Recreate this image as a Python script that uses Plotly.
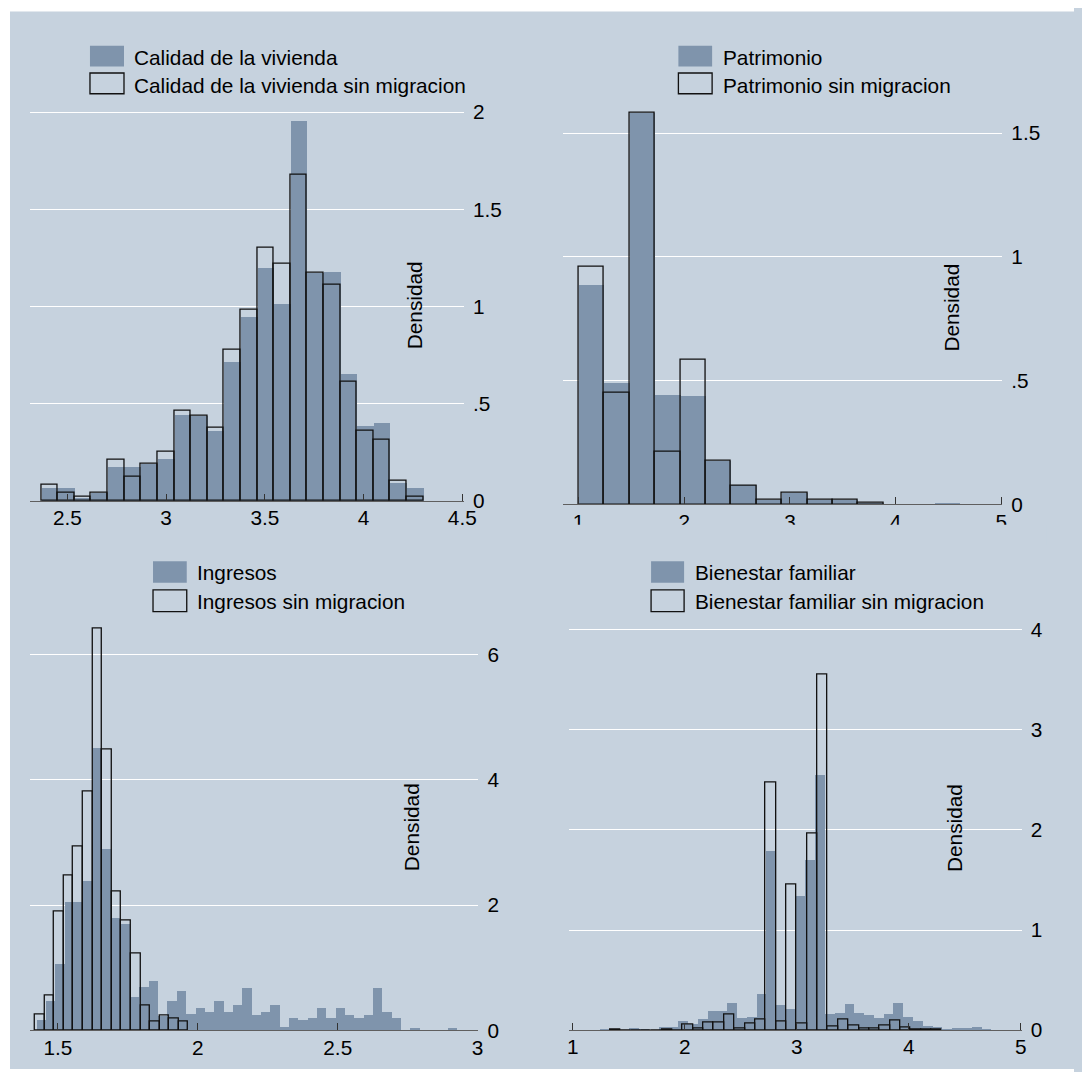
import plotly.graph_objects as go

# ---------------- data (densities) ----------------
calidad_start = 2.368
calidad_width = 0.0841
calidad_mig = [0.069, 0.069, 0.017, 0.043, 0.175, 0.175, 0.192, 0.218, 0.445, 0.440,
               0.364, 0.716, 0.948, 1.200, 1.012, 1.954, 1.175, 1.177, 0.656, 0.385,
               0.404, 0.093, 0.069]
calidad_sin = [0.084, 0.043, 0.024, 0.043, 0.213, 0.127, 0.192, 0.256, 0.462, 0.440,
               0.378, 0.780, 0.986, 1.300, 1.218, 1.679, 1.175, 1.112, 0.612, 0.359,
               0.316, 0.107, 0.024]

patrimonio_start = 1.0
patrimonio_width = 0.2405
patrimonio_mig = [0.887, 0.491, 1.581, 0.444, 0.437, 0.175, 0.080, 0.019, 0.047, 0.019,
                  0.019, 0.003, 0.0, 0.0, 0.008]
patrimonio_sin = [0.961, 0.452, 1.581, 0.213, 0.584, 0.175, 0.077, 0.019, 0.047, 0.019,
                  0.019, 0.005]

ingresos_mig_start = 1.4236
ingresos_mig_width = 0.0334
ingresos_mig = [0.171, 0.476, 1.070, 2.064, 2.064, 2.390, 4.520, 2.910, 1.810, 1.706,
                0.534, 0.695, 0.800, 0.240, 0.480, 0.630, 0.267, 0.363, 0.310, 0.470,
                0.310, 0.417, 0.684, 0.257, 0.310, 0.417, 0.064, 0.203, 0.171, 0.203,
                0.363, 0.203, 0.363, 0.257, 0.203, 0.257, 0.684, 0.310, 0.203, 0.0,
                0.053, 0.0, 0.0, 0.0, 0.053]
ingresos_sin_start = 1.4175
ingresos_sin_width = 0.0343
ingresos_sin = [0.251, 0.561, 1.904, 2.470, 2.940, 3.820, 6.410, 4.490, 2.214, 1.759,
                1.230, 0.396, 0.144, 0.246, 0.193, 0.144]

bienestar_mig_start = 1.247
bienestar_mig_width = 0.0873
bienestar_mig = [0.010, 0.005, 0.0, 0.023, 0.010, 0.0, 0.033, 0.033, 0.093, 0.067,
                 0.117, 0.200, 0.200, 0.277, 0.123, 0.137, 0.367, 1.790, 0.260, 0.217,
                 1.340, 1.700, 2.550, 0.167, 0.173, 0.267, 0.177, 0.160, 0.123, 0.167,
                 0.277, 0.140, 0.093, 0.043, 0.033, 0.010, 0.030, 0.023, 0.037, 0.017]
bienestar_sin_start = 1.334
bienestar_sin_width = 0.0925
bienestar_sin = [0.007, 0.0, 0.0, 0.0, 0.0, 0.003, 0.0, 0.060, 0.017, 0.080,
                 0.080, 0.153, 0.020, 0.070, 0.103, 2.473, 0.087, 1.457, 0.070, 1.963,
                 3.550, 0.040, 0.103, 0.050, 0.017, 0.017, 0.050, 0.097, 0.030, 0.007,
                 0.003, 0.003]

labels_mig = ["Calidad de la vivienda", "Patrimonio", "Ingresos", "Bienestar familiar"]
labels_sin = ["Calidad de la vivienda sin migracion", "Patrimonio sin migracion",
              "Ingresos sin migracion", "Bienestar familiar sin migracion"]

x_ticks = [[2.5, 3, 3.5, 4, 4.5], [1, 2, 3, 4, 5], [1.5, 2, 2.5, 3], [1, 2, 3, 4, 5]]
x_ticktext = [["2.5", "3", "3.5", "4", "4.5"], ["1", "2", "3", "4", "5"],
              ["1.5", "2", "2.5", "3"], ["1", "2", "3", "4", "5"]]
y_ticks = [[0, 0.5, 1, 1.5, 2], [0, 0.5, 1, 1.5], [0, 2, 4, 6], [0, 1, 2, 3, 4]]
y_ticktext = [["0", ".5", "1", "1.5", "2"], ["0", ".5", "1", "1.5"],
              ["0", "2", "4", "6"], ["0", "1", "2", "3", "4"]]
y_title = "Densidad"

# ---------------- styling / geometry ----------------
# Geometry is given in pixels of the final picture. The figure sits inside the
# page's body margin and the page is photographed slightly scaled (K).
K = 0.98543
OFFX = 8.0 + 1.5 / K
OFFY = 8.0 + 3.5 / K
W, H = 1082, 1072

BG = "#C6D2DE"
FILL = "#7F94AC"
FONT = "Liberation Sans, Arial, sans-serif"
FS = 20.5 / K
LW = 1.3 / K

def fx(s):
    return (s / K - OFFX) / W

def fy(s):
    return 1 - (s / K - OFFY) / H

panels = [
    dict(xd=(29, 463), xc=((2.5, 66.7), (4.0, 362.7)), yb=500.7, yt=100, ys=194.2),
    dict(xd=(561.7, 1001), xc=((1.0, 577.5), (5.0, 1000.0)), yb=504.0, yt=100, ys=247.2),
    dict(xd=(29.3, 477.5), xc=((1.5, 57.3), (3.0, 476.7)), yb=1029.3, yt=620, ys=62.55),
    dict(xd=(568.3, 1020.5), xc=((1.0, 571.7), (5.0, 1019.5)), yb=1029.0, yt=620, ys=100.0),
]
legend_geo = [
    dict(sx=(89.3, 123.3), tx=134.3, s1=(46, 66.7), s2=(73.3, 94), t1=58.5, t2=87),
    dict(sx=(677.3, 711.0), tx=722.7, s1=(46, 66.7), s2=(73.3, 94), t1=58.5, t2=87),
    dict(sx=(152.3, 186.0), tx=197.0, s1=(560.7, 582.3), s2=(589.3, 611), t1=573.2, t2=601.5),
    dict(sx=(650.0, 683.0), tx=695.0, s1=(560.7, 582.3), s2=(589.3, 611), t1=573.2, t2=601.5),
]
dens_pos = [(413.3, 305), (950.7, 307.5), (410.7, 826.7), (953.3, 827.5)]
TXT_DX, TXT_DY = -3.0, -1.0

series = [
    (calidad_start, calidad_width, calidad_mig, calidad_start, calidad_width, calidad_sin),
    (patrimonio_start, patrimonio_width, patrimonio_mig, patrimonio_start, patrimonio_width, patrimonio_sin),
    (ingresos_mig_start, ingresos_mig_width, ingresos_mig, ingresos_sin_start, ingresos_sin_width, ingresos_sin),
    (bienestar_mig_start, bienestar_mig_width, bienestar_mig, bienestar_sin_start, bienestar_sin_width, bienestar_sin),
]

fig = go.Figure()
layout = dict(
    width=W, height=H, margin=dict(l=0, r=0, t=0, b=0),
    paper_bgcolor="white", plot_bgcolor="rgba(0,0,0,0)",
    barmode="overlay", bargap=0, showlegend=False,
    font=dict(family=FONT, size=FS, color="black"),
)
shapes = [dict(type="rect", xref="paper", yref="paper", x0=max(0.0, fx(9)), x1=1, y0=0,
               y1=min(1.0, fy(12)), fillcolor=BG, line=dict(width=0), layer="below")]
annotations = []

for i, (p, s) in enumerate(zip(panels, series)):
    n = "" if i == 0 else str(i + 1)
    xa, ya = "x" + n, "y" + n
    ms, mw, mv, ss, sw, sv = s
    fig.add_trace(go.Bar(x=[ms + k * mw for k in range(len(mv))], y=mv, width=mw, offset=0,
                         marker=dict(color=FILL, line=dict(width=0)), xaxis=xa, yaxis=ya,
                         name=labels_mig[i]))
    fig.add_trace(go.Bar(x=[ss + k * sw for k in range(len(sv))], y=sv, width=sw, offset=0,
                         marker=dict(color="rgba(0,0,0,0)", line=dict(width=LW, color="#111111")),
                         xaxis=xa, yaxis=ya, name=labels_sin[i]))
    (v0, p0), (v1, p1) = p["xc"]
    slope = (p1 - p0) / (v1 - v0)
    xr = [v0 - (p0 - p["xd"][0]) / slope, v0 + (p["xd"][1] - p0) / slope]
    yr = [0, (p["yb"] - p["yt"]) / p["ys"]]
    layout["xaxis" + n] = dict(
        domain=[fx(p["xd"][0]), fx(p["xd"][1])], range=xr, anchor=ya,
        showline=True, linecolor="#5f5f5f", linewidth=1.4 / K, ticks="inside", ticklen=7 / K,
        tickwidth=1.2 / K, tickcolor="#333333", showgrid=False, zeroline=False,
        tickvals=x_ticks[i], ticktext=x_ticktext[i], ticklabelstandoff=-2,
        tickfont=dict(size=FS, color="black", family=FONT))
    layout["yaxis" + n] = dict(
        domain=[fy(p["yb"]), fy(p["yt"])], range=yr, anchor=xa, side="right",
        showline=False, ticks="", showgrid=True, gridcolor="white", gridwidth=1.4 / K,
        zeroline=False, tickvals=y_ticks[i], ticktext=y_ticktext[i], ticklabelstandoff=8,
        tickfont=dict(size=FS, color="black", family=FONT))
    lg = legend_geo[i]
    shapes.append(dict(type="rect", xref="paper", yref="paper", x0=fx(lg["sx"][0]), x1=fx(lg["sx"][1]),
                       y0=fy(lg["s1"][1]), y1=fy(lg["s1"][0]), fillcolor=FILL, line=dict(width=0)))
    shapes.append(dict(type="rect", xref="paper", yref="paper", x0=fx(lg["sx"][0]), x1=fx(lg["sx"][1]),
                       y0=fy(lg["s2"][1]), y1=fy(lg["s2"][0]), fillcolor="rgba(0,0,0,0)",
                       line=dict(width=LW, color="#111111")))
    annotations.append(dict(text=labels_mig[i], xref="paper", yref="paper",
                            x=fx(lg["tx"] + TXT_DX), y=fy(lg["t1"] + TXT_DY),
                            xanchor="left", yanchor="middle", showarrow=False))
    annotations.append(dict(text=labels_sin[i], xref="paper", yref="paper",
                            x=fx(lg["tx"] + TXT_DX), y=fy(lg["t2"] + TXT_DY),
                            xanchor="left", yanchor="middle", showarrow=False))
    annotations.append(dict(text=y_title, xref="paper", yref="paper", x=fx(dens_pos[i][0]),
                            y=fy(dens_pos[i][1]), textangle=-90, xanchor="center", yanchor="middle",
                            showarrow=False))

# the reference clips the lower half of the top-right x tick labels
shapes.append(dict(type="rect", xref="paper", yref="paper", x0=fx(550), x1=fx(1045),
                   y0=fy(545), y1=fy(524.3), fillcolor=BG, line=dict(width=0), layer="above"))

layout["shapes"] = shapes
layout["annotations"] = annotations
fig.update_layout(**layout)

# page background: white strip at the left/top edges, chart colour elsewhere
page_bg = ("document.documentElement.style.background="
           "'linear-gradient(to right,#ffffff 8px,rgba(0,0,0,0) 8px) no-repeat,"
           "linear-gradient(to bottom,#ffffff 8px,rgba(0,0,0,0) 8px) no-repeat," + BG + "';")
fig.write_html("out.html", config={"displayModeBar": False}, post_script=page_bg)
